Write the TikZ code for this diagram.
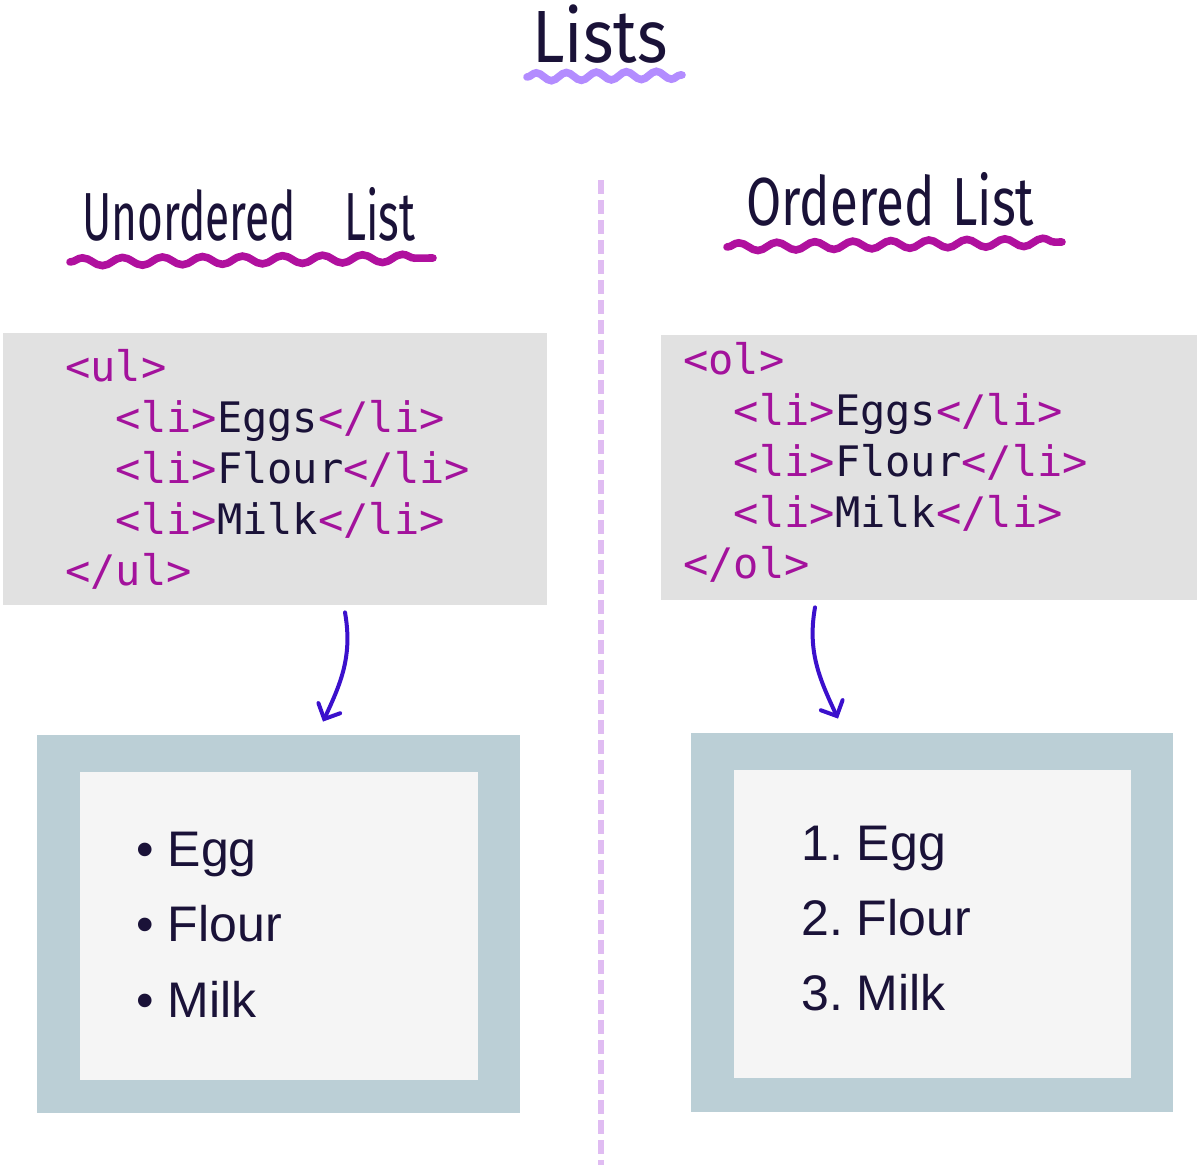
\documentclass[tikz,border=0pt]{standalone}
\usepackage{fontspec}
\setmainfont{Liberation Sans}
\newfontfamily\codefont{DejaVu Sans Mono}
\newfontfamily\handfont{Fira Sans}
\frenchspacing
\usetikzlibrary{arrows.meta,
	decorations.pathmorphing,
	calc,
	positioning}
\definecolor{ink}{HTML}{1A1238}
\definecolor{tagpink}{HTML}{A3129C}
\definecolor{codegray}{HTML}{E1E1E1}
\definecolor{framegray}{HTML}{BBCFD6}
\definecolor{viewgray}{HTML}{F5F5F5}
\definecolor{arrowblue}{HTML}{3B10CC}
\definecolor{dividerpink}{HTML}{E0BCF2}
\definecolor{wavelilac}{HTML}{B38CFF}
\definecolor{wavepink}{HTML}{B0109E}
\newcommand{\tg}[1]{\textcolor{tagpink}{#1}}
\tikzset{
	codebox/.style={fill=codegray, inner sep=0pt},
	codeline/.style={anchor=base west, inner sep=0pt, text=ink, font=\codefont\fontsize{21}{25}\selectfont},
	viewframe/.style={fill=framegray, inner sep=0pt},
	viewpane/.style={fill=viewgray, inner sep=0pt},
	listline/.style={anchor=base west, inner sep=0pt, text=ink, font=\fontsize{25}{30}\selectfont},
	hand/.style={inner sep=0pt, text=ink, font=\handfont\fontsize{34}{40}\selectfont},
	wave/.style={decorate, decoration={snake, segment length=#1, amplitude=2pt}, line width=3.8pt, line cap=round},
	flow/.style={arrowblue, line width=2pt, line cap=round, -{Straight Barb[length=6pt, width=12pt, line cap=round]}},
	divider/.style={dividerpink, line width=3pt, dash pattern=on 7pt off 3pt}
}
\begin{document}
\begin{tikzpicture}[x=0.5pt, y=-0.5pt]
\useasboundingbox (0,0) rectangle (1200,1167);

\node[hand, anchor=base, font=\handfont\fontsize{37}{44}\selectfont, xscale=0.88] (title) at (600,62) {Lists};
\draw[wave=15pt, wavelilac] (527,77) -- (682,75);

\draw[divider] (601,180) -- (601,1165);

\node[hand, anchor=base west, xscale=0.65] (ulhead) at (82,240) {Unordered\hspace{1.1em}List};
\draw[wave=20pt, wavepink] (70,262) -- (433,258);
\node[hand, anchor=base west, xscale=0.75] (olhead) at (746,225) {Ordered\hspace{0.35em}List};
\draw[wave=19pt, wavepink] (727,247) -- (1062,242);

\node[codebox, minimum width=272pt, minimum height=136pt] (ulcode) at (275,469) {};
\node[codebox, minimum width=268pt, minimum height=132.5pt] (olcode) at (929,467.5) {};

\foreach [count=\i from 0] \txt in {{\tg{<ul>}},
	{\phantom{xx}\tg{<li>}Eggs\tg{</li>}},
	{\phantom{xx}\tg{<li>}Flour\tg{</li>}},
	{\phantom{xx}\tg{<li>}Milk\tg{</li>}},
	{\tg{</ul>}}}{
	\node[codeline] (ul\i) at (65,381+51*\i) {\txt};
}
\foreach [count=\i from 0] \txt in {{\tg{<ol>}},
	{\phantom{xx}\tg{<li>}Eggs\tg{</li>}},
	{\phantom{xx}\tg{<li>}Flour\tg{</li>}},
	{\phantom{xx}\tg{<li>}Milk\tg{</li>}},
	{\tg{</ol>}}}{
	\node[codeline] (ol\i) at (683,374+51*\i) {\txt};
}

\node[viewframe, minimum width=241.5pt, minimum height=189pt] (ulframe) at (278.5,924) {};
\node[viewpane, minimum width=199pt, minimum height=154pt] (ulview) at (279,926) {};
\node[viewframe, minimum width=241pt, minimum height=189.5pt] (olframe) at (932,922.5) {};
\node[viewpane, minimum width=198.5pt, minimum height=154pt] (olview) at (932.5,924) {};

\foreach [count=\i from 0] \txt in {Egg, Flour, Milk}{
	\node[listline] (ulitem\i) at (136,866+75.5*\i) {•\ \txt};
}
\foreach [count=\i from 0] \txt in {1. Egg, 2. Flour, 3. Milk}{
	\node[listline] (olitem\i) at (801,860+75*\i) {\txt};
}

\draw[flow] ([shift={(70,7)}]ulcode.south) to[out=-80, in=65] ([shift={(44.5,-13)}]ulframe.north);
\draw[flow] ([shift={(-114,7)}]olcode.south) to[out=-100, in=115] ([shift={(-94,-14)}]olframe.north);
\end{tikzpicture}
\end{document}
